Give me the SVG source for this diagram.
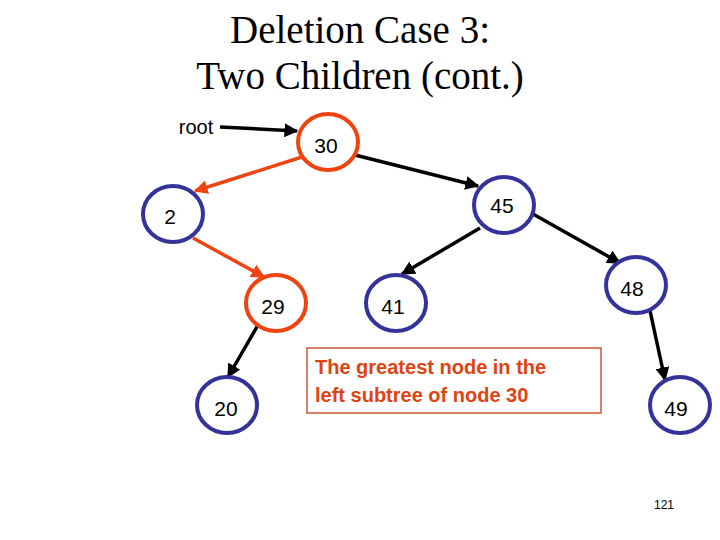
<svg xmlns="http://www.w3.org/2000/svg" width="720" height="540" viewBox="0 0 720 540">
<style>
.t{font-family:"Liberation Serif",serif;font-size:39px;text-anchor:middle}
.n{fill:#fff;stroke:#333399;stroke-width:4}
.l{font-family:"Liberation Sans",sans-serif;font-size:21px;text-anchor:middle;dominant-baseline:central}
.e{stroke:#000;stroke-width:3.5;fill:none}
.r{stroke:#ee4411}
</style>
<defs>
<marker id="ak" viewBox="0 0 10 10" refX="9" refY="5" markerWidth="4" markerHeight="4" orient="auto"><path d="M0,0L10,5L0,10z" fill="#000"/></marker>
<marker id="ar" viewBox="0 0 10 10" refX="9" refY="5" markerWidth="4" markerHeight="4" orient="auto"><path d="M0,0L10,5L0,10z" fill="#ee4411"/></marker>
</defs>
<rect width="720" height="540" fill="#fff"/>
<text class="t" x="360" y="43">Deletion Case 3:</text>
<text class="t" x="360" y="89">Two Children (cont.)</text>
<g id="connectors">
<line class="e" x1="220" y1="127" x2="297" y2="131" marker-end="url(#ak)"/>
<line class="e r" x1="302" y1="157" x2="195" y2="191" marker-end="url(#ar)"/>
<line class="e r" x1="193" y1="238" x2="264" y2="277" marker-end="url(#ar)"/>
<line class="e" x1="355" y1="155" x2="478" y2="186" marker-end="url(#ak)"/>
<line class="e" x1="480" y1="228" x2="402" y2="274" marker-end="url(#ak)"/>
<line class="e" x1="533" y1="214" x2="620" y2="263" marker-end="url(#ak)"/>
<line class="e" x1="258" y1="325" x2="228" y2="377" marker-end="url(#ak)"/>
<line class="e" x1="649" y1="306" x2="665" y2="380" marker-end="url(#ak)"/>
</g>
<text x="196" y="134" font-family="Liberation Sans,sans-serif" font-size="20" text-anchor="middle">root</text>
<g id="n30"><ellipse class="n r" cx="328" cy="142" rx="30" ry="28"/><text class="l" x="326" y="145">30</text></g>
<g id="n2"><ellipse class="n" cx="173" cy="214" rx="30" ry="28"/><text class="l" x="170" y="216">2</text></g>
<g id="n45"><ellipse class="n" cx="504" cy="205" rx="30" ry="28"/><text class="l" x="502" y="205">45</text></g>
<g id="n29"><ellipse class="n r" cx="276" cy="303" rx="30" ry="28"/><text class="l" x="273" y="306">29</text></g>
<g id="n41"><ellipse class="n" cx="396" cy="303" rx="30" ry="28"/><text class="l" x="393" y="306">41</text></g>
<g id="n48"><ellipse class="n" cx="636" cy="285" rx="30" ry="28"/><text class="l" x="632" y="288">48</text></g>
<g id="n20"><ellipse class="n" cx="227" cy="405" rx="30" ry="28"/><text class="l" x="226" y="408">20</text></g>
<g id="n49"><ellipse class="n" cx="680" cy="405" rx="30" ry="28"/><text class="l" x="676" y="408">49</text></g>
<g id="note">
<rect x="307" y="348" width="294" height="65" fill="#fff" stroke="#cc5533" stroke-width="1.5"/>
<text x="315" y="374" font-family="Liberation Sans,sans-serif" font-size="20" font-weight="bold" fill="#dd4411">The greatest node in the</text>
<text x="315" y="402" font-family="Liberation Sans,sans-serif" font-size="20" font-weight="bold" fill="#dd4411">left subtree of node 30</text>
</g>
<text x="664" y="509" font-family="Liberation Sans,sans-serif" font-size="12" text-anchor="middle">121</text>
</svg>
